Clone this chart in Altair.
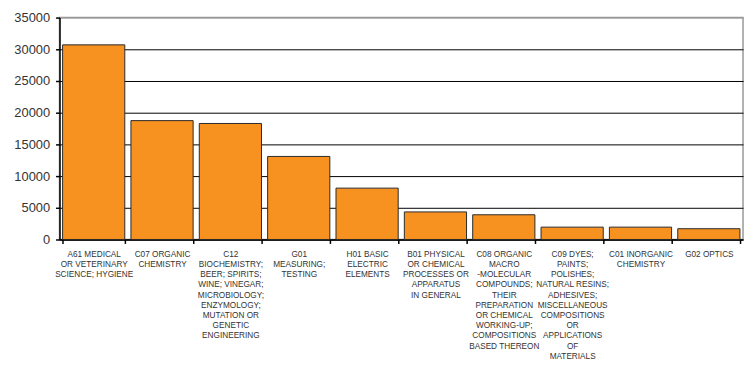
import altair as alt
import pandas as pd

labels = [
    "A61 MEDICAL|OR VETERINARY|SCIENCE; HYGIENE",
    "C07 ORGANIC|CHEMISTRY",
    "C12|BIOCHEMISTRY;|BEER; SPIRITS;|WINE; VINEGAR;|MICROBIOLOGY;|ENZYMOLOGY;|MUTATION OR|GENETIC|ENGINEERING",
    "G01|MEASURING;|TESTING",
    "H01 BASIC|ELECTRIC|ELEMENTS",
    "B01 PHYSICAL|OR CHEMICAL|PROCESSES OR|APPARATUS|IN GENERAL",
    "C08 ORGANIC|MACRO|-MOLECULAR|COMPOUNDS;|THEIR|PREPARATION|OR CHEMICAL|WORKING-UP;|COMPOSITIONS|BASED THEREON",
    "C09 DYES;|PAINTS;|POLISHES;|NATURAL RESINS;|ADHESIVES;|MISCELLANEOUS|COMPOSITIONS|OR|APPLICATIONS|OF|MATERIALS",
    "C01 INORGANIC|CHEMISTRY",
    "G02 OPTICS",
]
values = [30700, 18750, 18300, 13100, 8100, 4350, 3900, 1950, 1950, 1700]
y_ticks = [0, 5000, 10000, 15000, 20000, 25000, 30000, 35000]

df = pd.DataFrame({"label": labels, "value": values})

chart = alt.Chart(df).mark_bar(
    color="#F7911F", stroke="#2a2a2a", strokeWidth=1
).encode(
    x=alt.X("label:N", sort=None, title=None,
            scale=alt.Scale(paddingInner=0.09, paddingOuter=0.045),
            axis=alt.Axis(labelExpr="split(datum.label, '|')", labelAngle=0,
                          labelFontSize=8.3, labelLineHeight=10.3, labelColor="#333",
                          labelFont="Liberation Sans", labelBaseline="top",
                          labelPadding=6, labelLimit=200, labelOverlap=False,
                          tickBand="extent", tickSize=4, tickColor="black",
                          domainColor="black", grid=False)),
    y=alt.Y("value:Q", title=None,
            scale=alt.Scale(domain=[0, 35000], nice=False),
            axis=alt.Axis(values=y_ticks, format="d", labelFontSize=13, labelColor="#333",
                          labelFont="Liberation Sans", labelPadding=6,
                          tickSize=4, tickColor="black", domainColor="black",
                          grid=True,
                          gridColor={"condition": {"test": "datum.value >= 35000", "value": "#999"},
                                     "value": "black"},
                          labelFlush=False)),
).properties(
    width=690, height=224,
    autosize=alt.AutoSizeParams(type="none"),
    padding={"left": 52, "top": 8, "right": 2, "bottom": 124},
).configure_view(
    stroke="#999", strokeWidth=1.5
).configure_axis(
    domainWidth=1.5, tickWidth=1.5
)

chart.save("out.html", embed_options={"renderer": "svg", "actions": False})
